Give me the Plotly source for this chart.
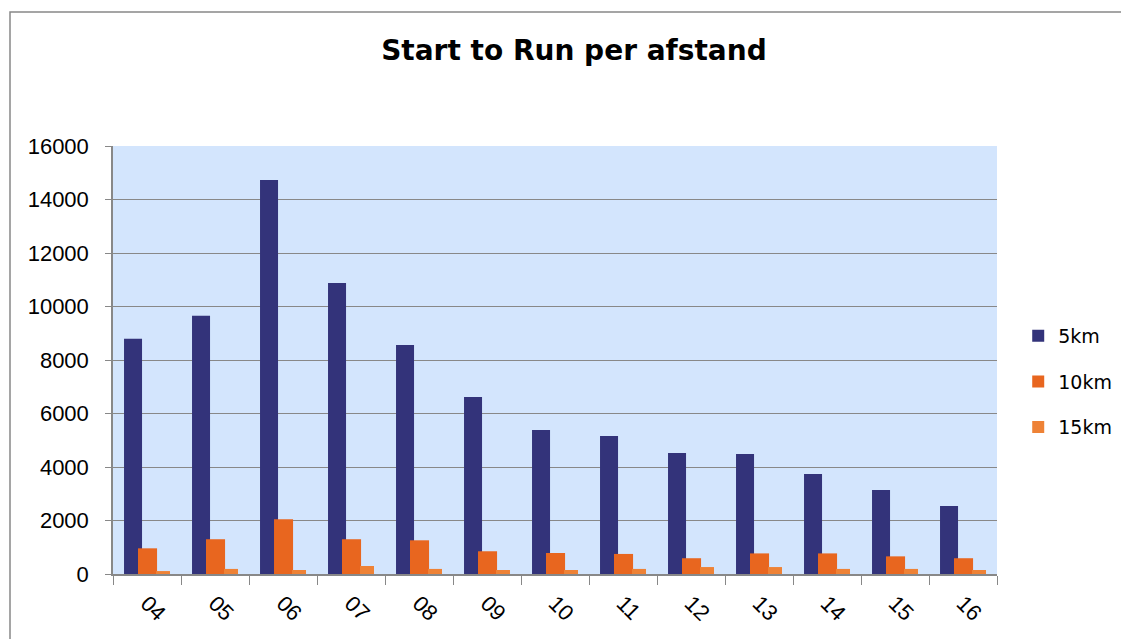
import plotly.graph_objects as go

years = ["04", "05", "06", "07", "08", "09", "10", "11", "12", "13", "14", "15", "16"]
km5 = [8790, 9650, 14730, 10880, 8560, 6620, 5385, 5160, 4520, 4490, 3740, 3140, 2540]
km10 = [960, 1300, 2045, 1300, 1260, 850, 785, 750, 590, 770, 770, 660, 590]
km15 = [110, 190, 150, 300, 190, 150, 150, 190, 260, 260, 190, 190, 150]
y_ticks = [0, 2000, 4000, 6000, 8000, 10000, 12000, 14000, 16000]

series = [
    ("5km", km5, "#33337A", -0.338, 0.265),
    ("10km", km10, "#E8661F", -0.132, 0.28),
    ("15km", km15, "#EE8236", 0.132, 0.206),
]

fig = go.Figure()
for name, vals, color, off, w in series:
    fig.add_trace(go.Bar(
        x=years, y=vals, name=name, marker_color=color, marker_line_width=0,
        offset=off, width=w, legendgroup=name,
    ))

fig.update_layout(
    width=1121, height=639,
    barmode="overlay",
    paper_bgcolor="white",
    plot_bgcolor="#D3E5FD",
    margin=dict(l=113, r=124, t=146, b=65, autoexpand=False),
    title=dict(text="<b>Start to Run per afstand</b>", x=0.512, xanchor="center", y=0.922, yanchor="middle",
               font=dict(family="DejaVu Sans", size=28, color="black")),
    legend=dict(x=1.024, xanchor="left", y=0.449, yanchor="middle",
                font=dict(family="DejaVu Sans", size=19, color="black"),
                traceorder="grouped", tracegroupgap=18, itemwidth=30,
                bgcolor="rgba(0,0,0,0)"),
    showlegend=True,
)
fig.update_xaxes(
    type="category", tickson="boundaries", ticks="outside", ticklen=9, tickcolor="#888888",
    showline=True, linecolor="#888888", linewidth=1.5, showgrid=False,
    tickangle=45, ticklabelstandoff=6,
    tickfont=dict(family="Liberation Sans", size=22, color="black"),
)
fig.update_yaxes(
    range=[0, 16000], tickvals=y_ticks, tickformat="d", ticks="outside", ticklen=6, tickcolor="#888888",
    showline=True, linecolor="#888888", linewidth=1.5, ticklabelstandoff=12,
    showgrid=True, gridcolor="#888888", gridwidth=1, zeroline=False,
    tickfont=dict(family="Liberation Sans", size=22, color="black"),
)
fig.add_shape(type="rect", xref="paper", yref="paper",
              x0=(10 - 113) / 884, x1=1.3, y0=-0.5, y1=(574 - 12) / 428,
              line=dict(color="#888888", width=1.5), fillcolor="rgba(0,0,0,0)", layer="below")

fig.write_html("out.html", config={"displayModeBar": False})
with open("out.html", "r", encoding="utf-8") as f:
    html = f.read()
html = html.replace("<head>", "<head><style>html,body{margin:0;padding:0;overflow:hidden;}</style>", 1)
with open("out.html", "w", encoding="utf-8") as f:
    f.write(html)
